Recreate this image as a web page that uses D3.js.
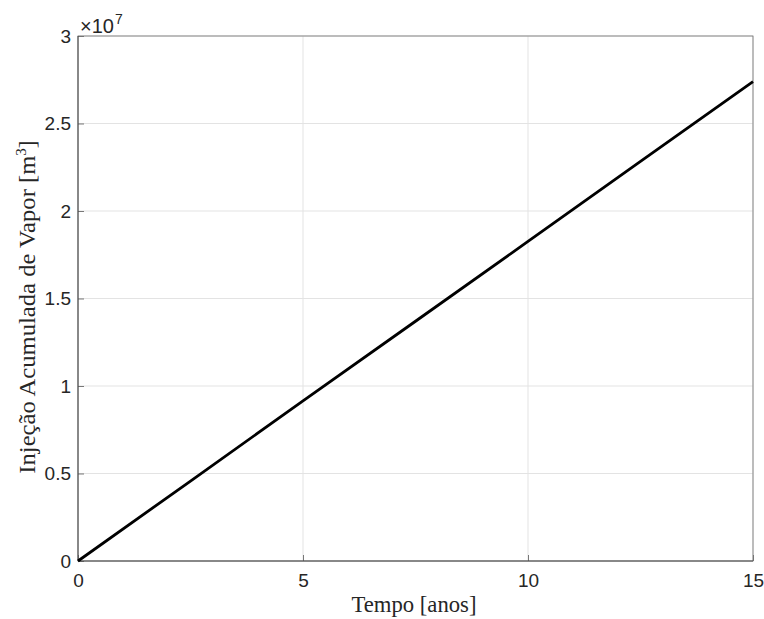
<!DOCTYPE html>
<html><head><meta charset="utf-8">
<script src="https://cdn.jsdelivr.net/npm/d3@7"></script>
<style>body{margin:0;background:#fff}</style>
</head><body>
<svg id="c" width="764" height="619"></svg>
<script>
const years = [0, 2.5, 5, 7.5, 10, 12.5, 15];
const injection = [0, 0.457e7, 0.915e7, 1.37e7, 1.826e7, 2.283e7, 2.739e7];
const xTicks = [0, 5, 10, 15];
const yTicks = [0, 0.5e7, 1e7, 1.5e7, 2e7, 2.5e7, 3e7];
const yTickLabels = ["0", "0.5", "1", "1.5", "2", "2.5", "3"];

const svg = d3.select("#c");
const L = 78, R = 753, T = 36, B = 561;
const x = d3.scaleLinear().domain([0, 15]).range([L, R]);
const y = d3.scaleLinear().domain([0, 3e7]).range([B, T]);

// grid
svg.append("g").selectAll("line").data(xTicks).join("line")
  .attr("x1", d => x(d)).attr("x2", d => x(d)).attr("y1", T).attr("y2", B)
  .attr("stroke", "#e3e3e3").attr("stroke-width", 1);
svg.append("g").selectAll("line").data(yTicks).join("line")
  .attr("x1", L).attr("x2", R).attr("y1", d => y(d)).attr("y2", d => y(d))
  .attr("stroke", "#e3e3e3").attr("stroke-width", 1);

// axes
const xAxis = d3.axisBottom(x).tickValues(xTicks).tickSizeInner(-6).tickSizeOuter(0).tickPadding(13);
const yAxis = d3.axisLeft(y).tickValues(yTicks).tickFormat((d, i) => yTickLabels[i]).tickSizeInner(-6).tickSizeOuter(0).tickPadding(7);
const gx = svg.append("g").attr("transform", `translate(0,${B})`).call(xAxis);
const gy = svg.append("g").attr("transform", `translate(${L},0)`).call(yAxis);
[gx, gy].forEach(g => {
  g.attr("font-size", null).attr("font-family", null);
  g.select(".domain").remove();
  g.selectAll(".tick line").attr("stroke", "#262626").attr("stroke-width", 0.6);
  g.selectAll(".tick text").attr("fill", "#262626").style("font-family", "Liberation Sans, Arial, sans-serif").style("font-size", "19px");
});
// box
svg.append("rect").attr("x", L).attr("y", T).attr("width", R - L).attr("height", B - T)
  .attr("fill", "none").attr("stroke", "#6e6e6e").attr("stroke-width", 0.8);
svg.append("path").attr("d", `M${L},${T}V${B}H${R}`).attr("fill", "none").attr("stroke", "#3a3a3a").attr("stroke-width", 0.8);

// line
svg.append("path").datum(years.map((d, i) => [d, injection[i]]))
  .attr("d", d3.line().x(d => x(d[0])).y(d => y(d[1])))
  .attr("fill", "none").attr("stroke", "#000").attr("stroke-width", 2.8);

// exponent
const ex = svg.append("text").attr("x", 80).attr("y", 33).attr("fill", "#262626")
  .style("font-family", "Liberation Sans, Arial, sans-serif").style("font-size", "20px");
ex.append("tspan").text("×10");
ex.append("tspan").style("font-size", "14px").attr("dy", -9).attr("dx", 1).text("7");

// labels
svg.append("text").attr("x", 414).attr("y", 612).attr("text-anchor", "middle")
  .attr("textLength", 125).attr("lengthAdjust", "spacingAndGlyphs")
  .style("font-family", "Liberation Serif, DejaVu Serif, serif").style("font-size", "23px").attr("fill", "#262626")
  .text("Tempo [anos]");
const yl = svg.append("text").attr("transform", `translate(35,307) rotate(-90)`).attr("text-anchor", "middle")
  .style("font-family", "Liberation Serif, DejaVu Serif, serif").style("font-size", "23.5px").attr("fill", "#262626");
yl.append("tspan").attr("textLength", 318).attr("lengthAdjust", "spacingAndGlyphs").text("Injeção Acumulada de Vapor [m");
yl.append("tspan").style("font-size", "15px").attr("dy", -9).text("3");
yl.append("tspan").attr("dy", 9).text("]");
</script>
</body></html>
